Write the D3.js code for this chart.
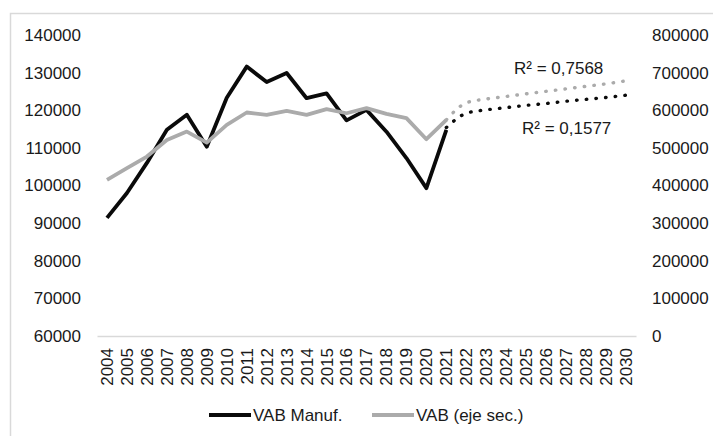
<!DOCTYPE html>
<html>
<head>
<meta charset="utf-8">
<script src="https://cdn.jsdelivr.net/npm/d3@7"></script>
<style>
  body { margin: 0; background: #fff; }
  svg { display: block; }
  text { font-family: "Liberation Sans", Arial, sans-serif; font-size: 17px; fill: #1a1a1a; }
</style>
</head>
<body>
<script>
const years = d3.range(2004, 2031).map(String);

// VAB Manuf. (eje principal)
const vabManuf = [91400, 98000, 106000, 114800, 118800, 110300, 123300, 131600, 127500,
                  129900, 123200, 124500, 117300, 120100, 114300, 107300, 99300, 114800];
// VAB (eje secundario)
const vabSec = [414900, 446000, 476900, 521000, 543400, 514000, 561000, 594000, 587800,
                598400, 587800, 603000, 592000, 605500, 590400, 579000, 523000, 574500];

// tendencias 2021-2030
const trendYears = d3.range(2021, 2031).map(String);
const trendManuf = [115400, 119200, 120100, 120700, 121300, 121800, 122400, 122900, 123400, 124000];
const trendSec = [574500, 619700, 629800, 636700, 643600, 650300, 656900, 663600, 670200, 678200];

const leftTicks = d3.range(60000, 140001, 10000);
const rightTicks = d3.range(0, 800001, 100000);

const W = 713, H = 436,
      PLOT_LEFT = 97, PLOT_RIGHT = 636,
      PLOT_TOP = 35, PLOT_BOTTOM = 336,
      BLACK = "#0a0a0a",
      GRAY = "#ababab",
      TEXT = "#1a1a1a";

const svg = d3.select("body").append("svg")
  .attr("width", W)
  .attr("height", H);

// chart frame (runs off the picture on the right and bottom)
svg.append("rect")
  .attr("x", 10.5).attr("y", 13.5)
  .attr("width", 900).attr("height", 600)
  .attr("fill", "none")
  .attr("stroke", "#d9d9d9")
  .attr("stroke-width", 1.5);

const x = d3.scaleBand().domain(years).range([PLOT_LEFT, PLOT_RIGHT]);
const cx = d => x(d) + x.bandwidth() / 2;
const yL = d3.scaleLinear().domain([60000, 140000]).range([PLOT_BOTTOM, PLOT_TOP]);
const yR = d3.scaleLinear().domain([0, 800000]).range([PLOT_BOTTOM, PLOT_TOP]);

function styleText(sel) {
  sel.attr("fill", TEXT)
    .style("font-size", "17px")
    .style("font-family", "Liberation Sans, Arial, sans-serif");
}

// left axis
svg.append("g")
  .attr("transform", "translate(" + PLOT_LEFT + ",0)")
  .call(d3.axisLeft(yL).tickValues(leftTicks).tickSize(0).tickPadding(16).tickFormat(d3.format("d")))
  .call(g => g.select(".domain").remove())
  .selectAll("text")
  .call(styleText);

// right axis
svg.append("g")
  .attr("transform", "translate(" + PLOT_RIGHT + ",0)")
  .call(d3.axisRight(yR).tickValues(rightTicks).tickSize(0).tickPadding(16).tickFormat(d3.format("d")))
  .call(g => g.select(".domain").remove())
  .selectAll("text")
  .call(styleText);

// x axis
let xAxis = svg.append("g")
  .attr("transform", "translate(0," + PLOT_BOTTOM + ")")
  .call(d3.axisBottom(x).tickSize(0));

xAxis.select(".domain")
  .attr("stroke", "#d9d9d9")
  .attr("stroke-width", 1.5);

xAxis.selectAll("text")
  .call(styleText)
  .attr("transform", "rotate(-90)")
  .attr("text-anchor", "end")
  .attr("x", -12)
  .attr("y", 0)
  .attr("dy", "0.35em");

// series
let lineL = d3.line().x((d, i) => cx(years[i])).y(d => yL(d));
let lineR = d3.line().x((d, i) => cx(years[i])).y(d => yR(d));

svg.append("path")
  .datum(vabManuf)
  .attr("d", lineL)
  .attr("fill", "none")
  .attr("stroke", BLACK)
  .attr("stroke-width", 3.8)
  .attr("stroke-linejoin", "round");

svg.append("path")
  .datum(vabSec)
  .attr("d", lineR)
  .attr("fill", "none")
  .attr("stroke", GRAY)
  .attr("stroke-width", 3.8)
  .attr("stroke-linejoin", "round");

// trend lines (dotted)
let trendL = d3.line().curve(d3.curveMonotoneX).x((d, i) => cx(trendYears[i])).y(d => yL(d));
let trendR = d3.line().curve(d3.curveMonotoneX).x((d, i) => cx(trendYears[i])).y(d => yR(d));

svg.append("path")
  .datum(trendSec)
  .attr("d", trendR)
  .attr("fill", "none")
  .attr("stroke", GRAY)
  .attr("stroke-width", 3.4)
  .attr("stroke-linecap", "round")
  .attr("stroke-dasharray", "0.5 9.2");

svg.append("path")
  .datum(trendManuf)
  .attr("d", trendL)
  .attr("fill", "none")
  .attr("stroke", BLACK)
  .attr("stroke-width", 3.4)
  .attr("stroke-linecap", "round")
  .attr("stroke-dasharray", "0.5 9.2");

// R² labels
svg.append("text").attr("x", 514).attr("y", 74).text("R² = 0,7568");
svg.append("text").attr("x", 522).attr("y", 134).text("R² = 0,1577");

// legend
const legend = [
  {label: "VAB Manuf.", color: BLACK, x: 209},
  {label: "VAB (eje sec.)", color: GRAY, x: 372}
];

let items = svg.selectAll("g.legend").data(legend).enter().append("g")
  .attr("class", "legend")
  .attr("transform", d => "translate(" + d.x + ",415)");

items.append("line")
  .attr("x1", 0).attr("x2", 42)
  .attr("stroke", d => d.color)
  .attr("stroke-width", 3.8);

items.append("text")
  .attr("x", 44)
  .attr("dy", "0.35em")
  .text(d => d.label);
</script>
</body>
</html>
